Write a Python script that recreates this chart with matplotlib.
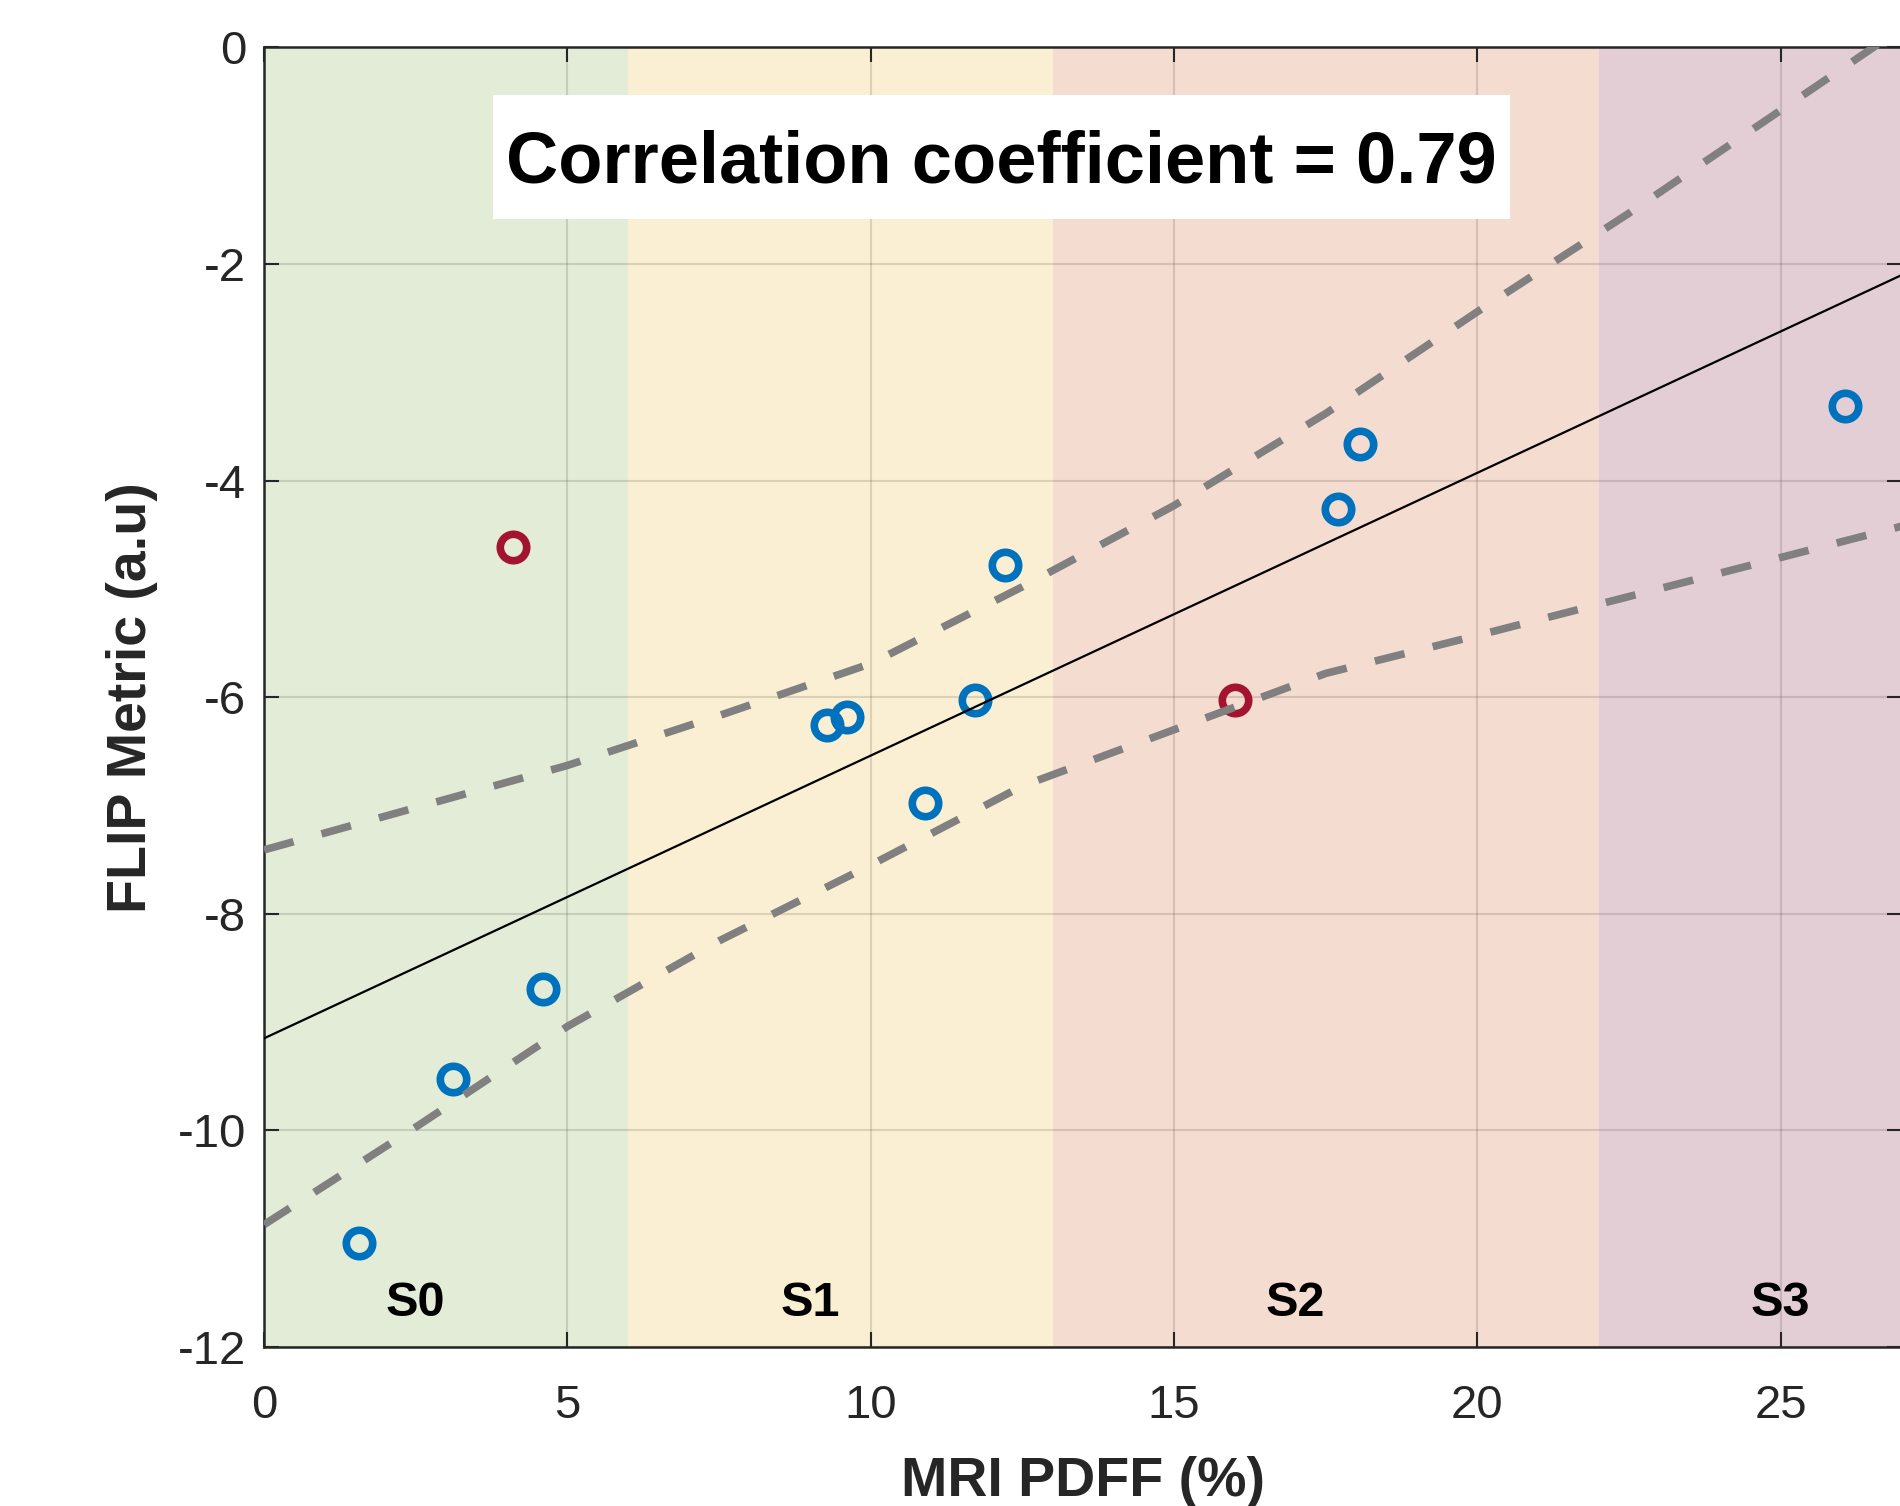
import matplotlib
matplotlib.use('Agg')
import matplotlib.pyplot as plt
from matplotlib.patches import Rectangle

plt.rcParams['font.family'] = ['Liberation Sans', 'DejaVu Sans']
plt.rcParams['axes.unicode_minus'] = False

# points (MRI PDFF %, FLIP metric)
blue_pdff = [1.56, 3.11, 4.60, 9.28, 9.61, 10.90, 11.72, 12.21, 17.70, 18.07, 26.06]
blue_flip = [-11.04, -9.53, -8.69, -6.26, -6.18, -6.98, -6.03, -4.78, -4.26, -3.66, -3.31]
red_pdff = [4.10, 16.01]
red_flip = [-4.61, -6.03]

# regression line and its bounds
fit_x = [0, 27]
fit_y = [-9.15, -2.10]
band_x = [0, 2.5, 5, 7.5, 10, 12.5, 15, 17.5, 20, 22.5, 25, 27]
band_upper = [-7.41, -7.02, -6.63, -6.17, -5.69, -4.98, -4.23, -3.38, -2.44, -1.53, -0.58, 0.18]
band_lower = [-10.87, -9.97, -9.04, -8.25, -7.55, -6.82, -6.30, -5.78, -5.43, -5.07, -4.71, -4.42]

# steatosis grades
stage_edges = [0, 6, 13, 22, 27]
stage_names = ['S0', 'S1', 'S2', 'S3']
stage_colors = ['#E2ECD6', '#FAEFD2', '#F5DCD0', '#E4CED5']
stage_label_x = [2.5, 9, 17, 25]
stage_label_y = -11.6

corr_text = 'Correlation coefficient = 0.79'

fig = plt.figure(figsize=(19, 15.06), dpi=100)
ax = fig.add_axes([0.139, 0.1056, 0.8621, 0.8629])

for i, name in enumerate(stage_names):
    ax.axvspan(stage_edges[i], stage_edges[i + 1], color=stage_colors[i],
               lw=0, zorder=0)
    ax.text(stage_label_x[i], stage_label_y, name, ha='center', va='center',
            fontsize=35, fontweight='bold', color='black', zorder=3)

ax.plot(blue_pdff, blue_flip, 'o', ls='none', mfc='none', mec='#0072BD',
        ms=19, mew=5.5, zorder=3)
ax.plot(red_pdff, red_flip, 'o', ls='none', mfc='none', mec='#A2142F',
        ms=19, mew=5.5, zorder=3)

ax.plot(fit_x, fit_y, color='black', lw=1.6, zorder=4)
ax.plot(band_x, band_upper, color='#808080', lw=5.5, ls=(0, (4.0, 3.8)), zorder=4)
ax.plot(band_x, band_lower, color='#808080', lw=5.5, ls=(0, (4.0, 3.8)), zorder=4)

# white box behind the correlation label
ax.add_patch(Rectangle((3.78, -1.58), 20.53 - 3.78, 1.14,
                       facecolor='white', edgecolor='none', zorder=2.5))
ax.text(12.15, -1.07, corr_text, ha='center', va='center',
        fontsize=52, fontweight='bold', color='black', zorder=3)

ax.set_xlim(0, 27)
ax.set_ylim(-12, 0)
ax.set_xticks([0, 5, 10, 15, 20, 25])
ax.set_yticks([-12, -10, -8, -6, -4, -2, 0])
ax.grid(True, color='#262626', alpha=0.15, lw=1.5)

ax.tick_params(direction='in', length=11, width=1.5, top=True, right=True,
               labelsize=34, labelcolor='#262626', color='#262626')
ax.tick_params(axis='x', pad=27)
ax.tick_params(axis='y', pad=13)
for sp in ax.spines.values():
    sp.set_linewidth(1.8)
    sp.set_color('#262626')

ax.set_xlabel('MRI PDFF (%)', fontsize=40, fontweight='bold', color='#262626',
              labelpad=20)
ax.set_ylabel('FLIP Metric (a.u)', fontsize=40, fontweight='bold', color='#262626',
              labelpad=14)

fig.savefig('out.png', dpi=100)
